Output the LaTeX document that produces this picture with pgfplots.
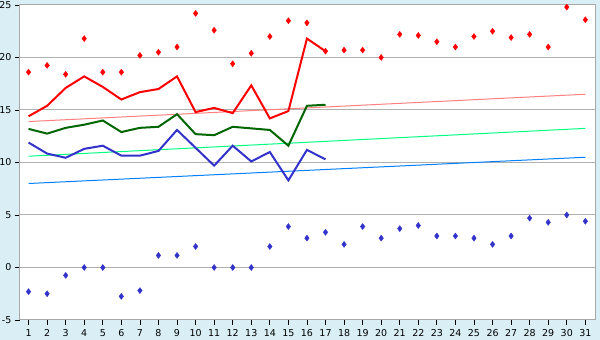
\documentclass[border=0pt]{standalone}
\usepackage{pgfplots}
\pgfplotsset{compat=1.18}
\usepackage{fontspec}
\setmainfont{DejaVu Sans}
\definecolor{bgc}{HTML}{D9EFF5}
\definecolor{gridc}{HTML}{B0B0B0}
\definecolor{axc}{HTML}{A8A8A8}
\definecolor{redc}{HTML}{FF0000}
\definecolor{greenc}{HTML}{006600}
\definecolor{bluec}{HTML}{3333CC}
\definecolor{pinkt}{HTML}{FF8080}
\definecolor{greent}{HTML}{00FF80}
\definecolor{bluet}{HTML}{0080FF}
\begin{document}
\begin{tikzpicture}
\path[use as bounding box, fill=bgc] (-20pt,-20pt) rectangle (580pt,320pt);
\begin{axis}[
  at={(0pt,0pt)}, anchor=south west,
  scale only axis, width=575pt, height=315pt,
  xmin=0.54, xmax=31.52, ymin=-5, ymax=25,
  xtick={1,...,31}, ytick={-5,0,...,25},
  ymajorgrids, grid style={gridc, line width=1pt},
  axis line style={axc, line width=1pt},
  axis background/.style={fill=white},
  tick align=outside, tick pos=left,
  major tick length=5pt,
  tick style={black, line width=0.8pt},
  every tick label/.append style={font=\fontsize{9.5}{11}\selectfont, text=black},
  xticklabel style={yshift=-1pt},
  yticklabel style={xshift=0pt},
  /pgf/number format/assume math mode=true,
  clip=false,
]
% trend lines
\addplot[pinkt, line width=1pt] coordinates {(1,13.9) (31,16.5)};
\addplot[greent, line width=1pt] coordinates {(1,10.6) (31,13.25)};
\addplot[bluet, line width=1pt] coordinates {(1,8.0) (31,10.5)};
% red line
\addplot[redc, line width=2pt] coordinates {
(1,14.4) (2,15.4) (3,17.1) (4,18.2) (5,17.2) (6,16.0) (7,16.7) (8,17.0) (9,18.2) (10,14.8)
(11,15.2) (12,14.7) (13,17.35) (14,14.2) (15,14.9) (16,21.8) (17,20.6)};
% green line
\addplot[greenc, line width=2pt] coordinates {
(1,13.2) (2,12.75) (3,13.3) (4,13.6) (5,14.0) (6,12.9) (7,13.3) (8,13.4) (9,14.6) (10,12.7)
(11,12.6) (12,13.4) (13,13.25) (14,13.1) (15,11.6) (16,15.4) (17,15.5)};
% blue line
\addplot[bluec, line width=2pt] coordinates {
(1,11.9) (2,10.85) (3,10.45) (4,11.3) (5,11.6) (6,10.65) (7,10.65) (8,11.1) (9,13.1) (10,11.4)
(11,9.7) (12,11.6) (13,10.1) (14,11.0) (15,8.3) (16,11.2) (17,10.3)};
% red diamonds
\addplot[only marks, mark=diamond*, mark size=3pt, redc] coordinates {
(1,18.6) (2,19.25) (3,18.4) (4,21.8) (5,18.6) (6,18.6) (7,20.2) (8,20.5) (9,21.0) (10,24.2)
(11,22.6) (12,19.4) (13,20.4) (14,22.0) (15,23.5) (16,23.3) (17,20.6) (18,20.7) (19,20.7) (20,20.0)
(21,22.2) (22,22.1) (23,21.5) (24,21.0) (25,22.0) (26,22.5) (27,21.9) (28,22.2) (29,21.0) (30,24.8) (31,23.6)};
% blue diamonds
\addplot[only marks, mark=diamond*, mark size=3pt, bluec] coordinates {
(1,-2.3) (2,-2.5) (3,-0.75) (4,0) (5,0) (6,-2.75) (7,-2.2) (8,1.15) (9,1.15) (10,2.0)
(11,0) (12,0) (13,0) (14,2.0) (15,3.9) (16,2.8) (17,3.35) (18,2.2) (19,3.9) (20,2.8)
(21,3.7) (22,4.0) (23,3.0) (24,3.0) (25,2.8) (26,2.2) (27,3.0) (28,4.7) (29,4.3) (30,5.0) (31,4.4)};
\end{axis}
\end{tikzpicture}
\end{document}
